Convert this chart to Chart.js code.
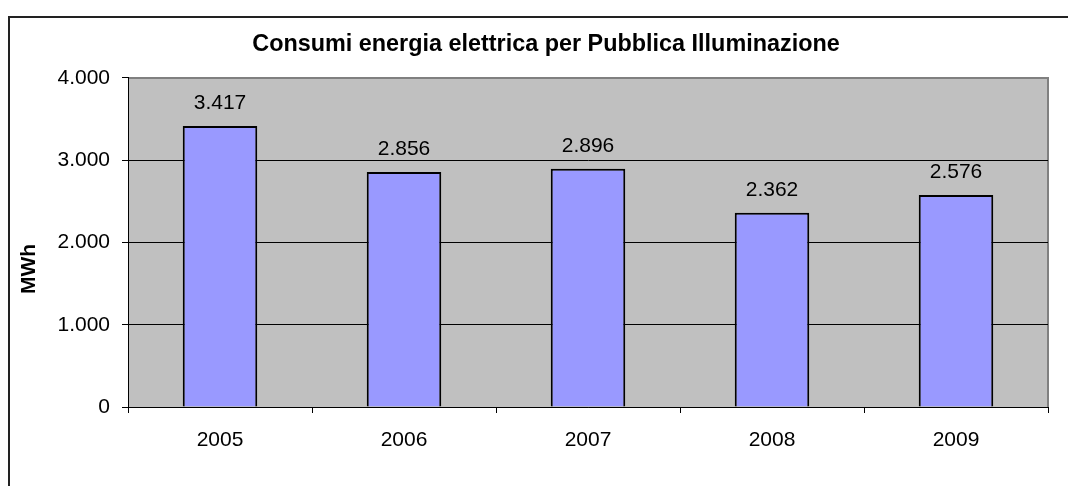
<!DOCTYPE html>
<html>
<head>
<meta charset="utf-8">
<script src="https://cdn.jsdelivr.net/npm/chart.js@4/dist/chart.umd.min.js"></script>
<style>
  html, body { margin: 0; padding: 0; background: #fff; }
  #wrap { width: 1068px; height: 486px; position: relative; }
</style>
</head>
<body>
<div id="wrap"><canvas id="myChart" width="1068" height="486"></canvas></div>
<script>
// dati consumi annuali (MWh)
var anni = ['2005', '2006', '2007', '2008', '2009'];
var consumi = [3417, 2856, 2896, 2362, 2576];
var yTicks = [0, 1000, 2000, 3000, 4000];
var titolo = 'Consumi energia elettrica per Pubblica Illuminazione';
var unita = 'MWh';

var FONT = '"Liberation Sans", Arial, sans-serif';

// separatore delle migliaia con il punto
function formatta(v) {
    return String(v).replace(/\B(?=(\d{3})+(?!\d))/g, '.');
}

// sfondo grigio dell'area del grafico, cornice esterna e titolo asse y
var sfondo = {
    id: 'sfondo',
    beforeDraw: function(chart) {
        var ctx = chart.ctx;
        var a = chart.chartArea;
        ctx.save();
        ctx.fillStyle = '#C0C0C0';
        ctx.fillRect(a.left, a.top, a.right - a.left, a.bottom - a.top);
        ctx.strokeStyle = '#808080';
        ctx.lineWidth = 2;
        ctx.beginPath();
        ctx.moveTo(a.left, a.top);
        ctx.lineTo(a.right, a.top);
        ctx.lineTo(a.right, a.bottom);
        ctx.stroke();
        // cornice del grafico (tagliata a destra e in basso)
        ctx.strokeStyle = '#222';
        ctx.lineWidth = 2;
        ctx.strokeRect(9, 17, 1100, 520);
        // titolo asse verticale
        ctx.translate(29, 269);
        ctx.rotate(-Math.PI / 2);
        ctx.font = 'bold 21px ' + FONT;
        ctx.fillStyle = '#000';
        ctx.textAlign = 'center';
        ctx.textBaseline = 'middle';
        ctx.fillText(unita, 0, 0);
        ctx.restore();
    }
};

// etichette dei valori sopra le barre
var etichette = {
    id: 'etichette',
    afterDatasetsDraw: function(chart) {
        var ctx = chart.ctx;
        var meta = chart.getDatasetMeta(0);
        ctx.save();
        ctx.font = '21px ' + FONT;
        ctx.fillStyle = '#000';
        ctx.textAlign = 'center';
        ctx.textBaseline = 'alphabetic';
        meta.data.forEach(function(bar, i) {
            ctx.fillText(formatta(consumi[i]), bar.x, bar.y - 17);
        });
        ctx.restore();
    }
};

var ctx = document.getElementById('myChart').getContext('2d');
var myChart = new Chart(ctx, {
    type: 'bar',
    data: {
        labels: anni,
        datasets: [{
            data: consumi,
            backgroundColor: '#9999FF',
            borderColor: '#000',
            borderWidth: 2,
            barPercentage: 0.405,
            categoryPercentage: 1
        }]
    },
    options: {
        responsive: false,
        maintainAspectRatio: false,
        animation: false,
        layout: { padding: { left: 44, right: 20, top: 0, bottom: 0 } },
        plugins: {
            legend: { display: false },
            tooltip: { enabled: false },
            title: {
                display: true,
                text: titolo,
                color: '#000',
                font: { family: FONT, size: 23.4, weight: 'bold' },
                padding: { top: 30.5, bottom: 19.4 }
            }
        },
        scales: {
            x: {
                offset: true,
                grid: {
                    offset: true,
                    drawOnChartArea: false,
                    drawTicks: true,
                    tickLength: 6,
                    tickColor: '#000'
                },
                border: { color: '#000', width: 1 },
                ticks: {
                    color: '#000',
                    padding: 15,
                    font: { family: FONT, size: 21 }
                },
                afterFit: function(scale) { scale.height = 79; }
            },
            y: {
                min: 0,
                max: 4000,
                afterBuildTicks: function(scale) {
                    scale.ticks = yTicks.map(function(v) { return { value: v }; });
                },
                grid: {
                    color: function(c) { return c.tick && c.tick.value === 4000 ? '#808080' : '#000'; },
                    lineWidth: 1,
                    drawTicks: true,
                    tickLength: 6,
                    tickColor: '#000'
                },
                border: { color: '#000', width: 1 },
                ticks: {
                    color: '#000',
                    padding: 12,
                    font: { family: FONT, size: 21 },
                    callback: function(v) { return formatta(v); }
                },
                afterFit: function(scale) { scale.width = 84; }
            }
        }
    },
    plugins: [sfondo, etichette]
});
</script>
</body>
</html>
